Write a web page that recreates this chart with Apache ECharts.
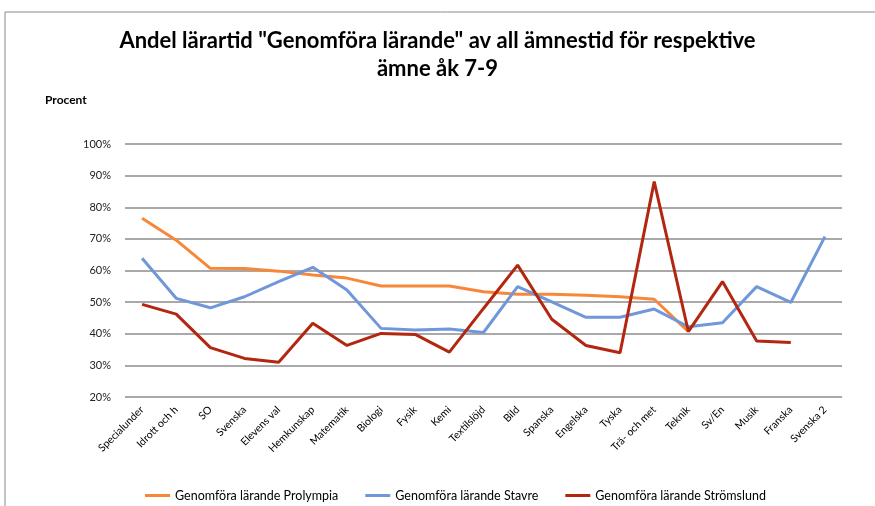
<!DOCTYPE html>
<html>
<head>
<meta charset="utf-8">
<script src="https://cdn.jsdelivr.net/npm/echarts@6/dist/echarts.min.js"></script>
<style>
  html, body { margin: 0; padding: 0; background: #fff; }
  #chart { width: 875px; height: 506px; }
</style>
</head>
<body>
<div id="chart"></div>
<script>
// ämnen på x-axeln
var subjects = ['Specialunder', 'Idrott och h', 'SO', 'Svenska', 'Elevens val', 'Hemkunskap',
    'Matematik', 'Biologi', 'Fysik', 'Kemi', 'Textilslöjd', 'Bild', 'Spanska', 'Engelska',
    'Tyska', 'Trä- och met', 'Teknik', 'Sv/En', 'Musik', 'Franska', 'Svenska 2'];

// andel i procent
var prolympia = [76.5, 69.6, 60.7, 60.6, 59.8, 58.6, 57.6, 55.1, 55.1, 55.1, 53.3,
    52.5, 52.5, 52.2, 51.7, 50.9, 40.7, null, null, null, null];
var stavre = [63.9, 51.2, 48.2, 51.7, 56.5, 61.0, 53.8, 41.7, 41.2, 41.5, 40.4,
    54.9, 50.1, 45.2, 45.2, 47.8, 42.2, 43.5, 54.9, 49.9, 70.7];
var stromslund = [49.3, 46.2, 35.6, 32.2, 31.0, 43.3, 36.3, 40.1, 39.8, 34.2, 48.0,
    61.7, 44.6, 36.3, 34.0, 88.1, 40.7, 56.5, 37.7, 37.2, null];

var seriesNames = ['Genomföra lärande Prolympia', 'Genomföra lärande Stavre', 'Genomföra lärande Strömslund'];
var colors = ['#f7883a', '#6f97d9', '#b3260f'];

var yTicks = { min: 20, max: 100, interval: 10 };

var myChart = echarts.init(document.getElementById('chart'));

var series = [prolympia, stavre, stromslund].map(function (d, i) {
    return {
        name: seriesNames[i],
        type: 'line',
        data: d,
        symbol: 'none',
        connectNulls: false,
        lineStyle: { width: 3, color: colors[i] },
        itemStyle: { color: colors[i] }
    };
});

var option = {
    animation: false,
    textStyle: { fontFamily: 'Lato' },
    title: {
        text: 'Andel lärartid "Genomföra lärande" av all ämnestid för respektive\nämne åk 7-9',
        left: 'center',
        top: 22,
        textStyle: { fontFamily: 'Lato', fontSize: 22, fontWeight: 'bold', color: '#000', lineHeight: 28 }
    },
    graphic: [
        { type: 'rect', shape: { x: 5, y: 12, width: 900, height: 520 },
          style: { fill: 'none', stroke: '#8a8a8a', lineWidth: 1 } },
        { type: 'text', left: 45, top: 94,
          style: { text: 'Procent', font: 'bold 12px Lato', fill: '#000' } }
    ],
    legend: {
        data: seriesNames,
        top: 484,
        left: 140,
        itemGap: 27,
        itemWidth: 25,
        itemHeight: 3,
        icon: 'rect',
        textStyle: { fontSize: 12.5, color: '#000', fontFamily: 'Lato' }
    },
    grid: {
        left: 125,
        right: 33,
        top: 144,
        bottom: 109,
        outerBoundsMode: 'none'
    },
    xAxis: {
        type: 'category',
        data: subjects,
        boundaryGap: true,
        axisLine: { show: false },
        axisTick: { show: false },
        axisLabel: { rotate: 45, interval: 0, fontSize: 10.5, color: '#000', margin: 11 }
    },
    yAxis: {
        type: 'value',
        min: yTicks.min,
        max: yTicks.max,
        interval: yTicks.interval,
        axisLine: { show: false },
        axisTick: { show: false },
        axisLabel: { formatter: '{value}%', fontSize: 11, color: '#222', margin: 14 },
        splitLine: { lineStyle: { color: '#8c8c8c', width: 1.5 } }
    },
    series: series
};
myChart.setOption(option);
</script>
</body>
</html>
